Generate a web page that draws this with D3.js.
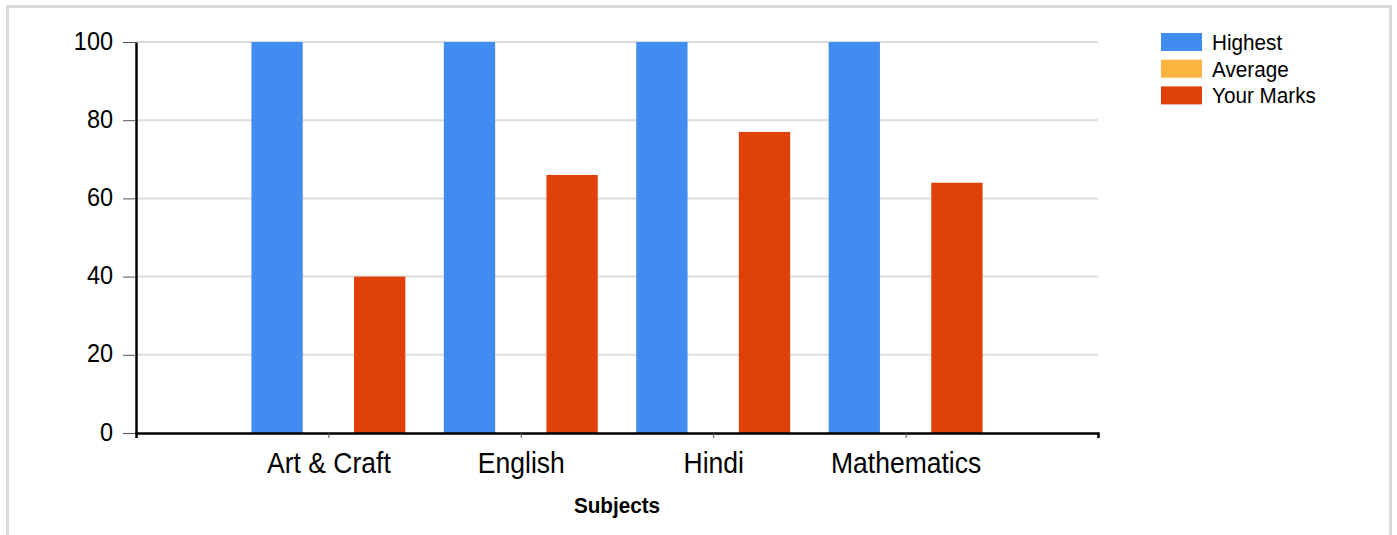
<!DOCTYPE html>
<html>
<head>
<meta charset="utf-8">
<script src="https://cdn.jsdelivr.net/npm/d3@7"></script>
<style>
  html, body { margin: 0; padding: 0; background: #fff; }
  svg { display: block; font-family: "Liberation Sans", Arial, sans-serif; }
</style>
</head>
<body>
<svg id="chart" width="1397" height="535"></svg>
<script>
const subjects = ["Art & Craft", "English", "Hindi", "Mathematics"];
const seriesNames = ["Highest", "Average", "Your Marks"];
const highest = [100, 100, 100, 100];
const average = [0, 0, 0, 0];
const yourMarks = [40, 66, 77, 64];
const yTicks = [0, 20, 40, 60, 80, 100];
const colors = ["#418CF0", "#FCB441", "#E0400A"];
const xTitle = "Subjects";

const seriesValues = [highest, average, yourMarks];
const stretch = 1.08; // text in the reference is slightly taller than wide

const svg = d3.select("#chart");

// outer frame
svg.append("rect")
  .attr("x", 7.5).attr("y", 6.5)
  .attr("width", 1383).attr("height", 600)
  .attr("fill", "none").attr("stroke", "#d9d9d9").attr("stroke-width", 3);

const plotLeft = 136, plotRight = 1098, plotTop = 42, plotBottom = 433;

const x = d3.scalePoint().domain(subjects).range([plotLeft, plotRight]).padding(1);
const groupW = x.step() * 0.8;
const xInner = d3.scaleBand().domain(seriesNames).range([0, groupW]);
const y = d3.scaleLinear().domain([0, 100]).range([plotBottom, plotTop]);

// gridlines
svg.append("g").selectAll("line")
  .data(yTicks.filter(t => t > 0))
  .join("line")
  .attr("x1", plotLeft).attr("x2", plotRight)
  .attr("y1", d => y(d)).attr("y2", d => y(d))
  .attr("stroke", "#dcdcdc").attr("stroke-width", 2);

// bars
const groups = svg.append("g").selectAll("g")
  .data(subjects)
  .join("g")
  .attr("transform", d => `translate(${x(d) - groupW / 2},0)`);

groups.selectAll("rect")
  .data((d, i) => seriesNames.map((s, j) => ({ s, v: seriesValues[j][i], c: colors[j] })))
  .join("rect")
  .attr("x", d => xInner(d.s))
  .attr("width", xInner.bandwidth())
  .attr("y", d => y(d.v))
  .attr("height", d => y(0) - y(d.v))
  .attr("fill", d => d.c);

// y axis
const yAxis = svg.append("g")
  .attr("transform", `translate(${plotLeft},0)`)
  .call(d3.axisLeft(y).tickValues(yTicks).tickSize(13).tickSizeOuter(0).tickPadding(10));
yAxis.select(".domain").attr("stroke", "#000").attr("stroke-width", 2.5);
yAxis.selectAll(".tick line").attr("stroke", "#555").attr("stroke-width", 1);
yAxis.selectAll(".tick text")
  .attr("font-size", 23.5).attr("fill", "#000")
  .attr("font-family", "Liberation Sans, Arial, sans-serif")
  .attr("dy", 6.5)
  .attr("transform", `scale(1,${stretch})`);

// x axis
const xAxis = svg.append("g")
  .attr("transform", `translate(0,${plotBottom})`)
  .call(d3.axisBottom(x).tickSize(5).tickSizeOuter(5));
xAxis.select(".domain").attr("stroke", "#000").attr("stroke-width", 2.5);
xAxis.selectAll(".tick line").attr("stroke", "#555").attr("stroke-width", 1);
xAxis.selectAll(".tick text")
  .attr("font-size", 26.5).attr("fill", "#000")
  .attr("font-family", "Liberation Sans, Arial, sans-serif")
  .attr("y", 37).attr("dy", 0)
  .attr("transform", `scale(1,${stretch})`);

// x title
svg.append("text")
  .attr("transform", `translate(${(plotLeft + plotRight) / 2},513) scale(1,${stretch})`)
  .attr("text-anchor", "middle")
  .attr("font-size", 20.7).attr("font-weight", "bold")
  .text(xTitle);

// legend
const legend = svg.append("g").selectAll("g")
  .data(seriesNames)
  .join("g")
  .attr("transform", (d, i) => `translate(1161,${33 + i * 26.7})`);
legend.append("rect")
  .attr("width", 41).attr("height", 18)
  .attr("fill", (d, i) => colors[i]);
legend.append("text")
  .attr("transform", `translate(51,17) scale(1,${stretch})`)
  .attr("font-size", 20.7)
  .text(d => d);
</script>
</body>
</html>
